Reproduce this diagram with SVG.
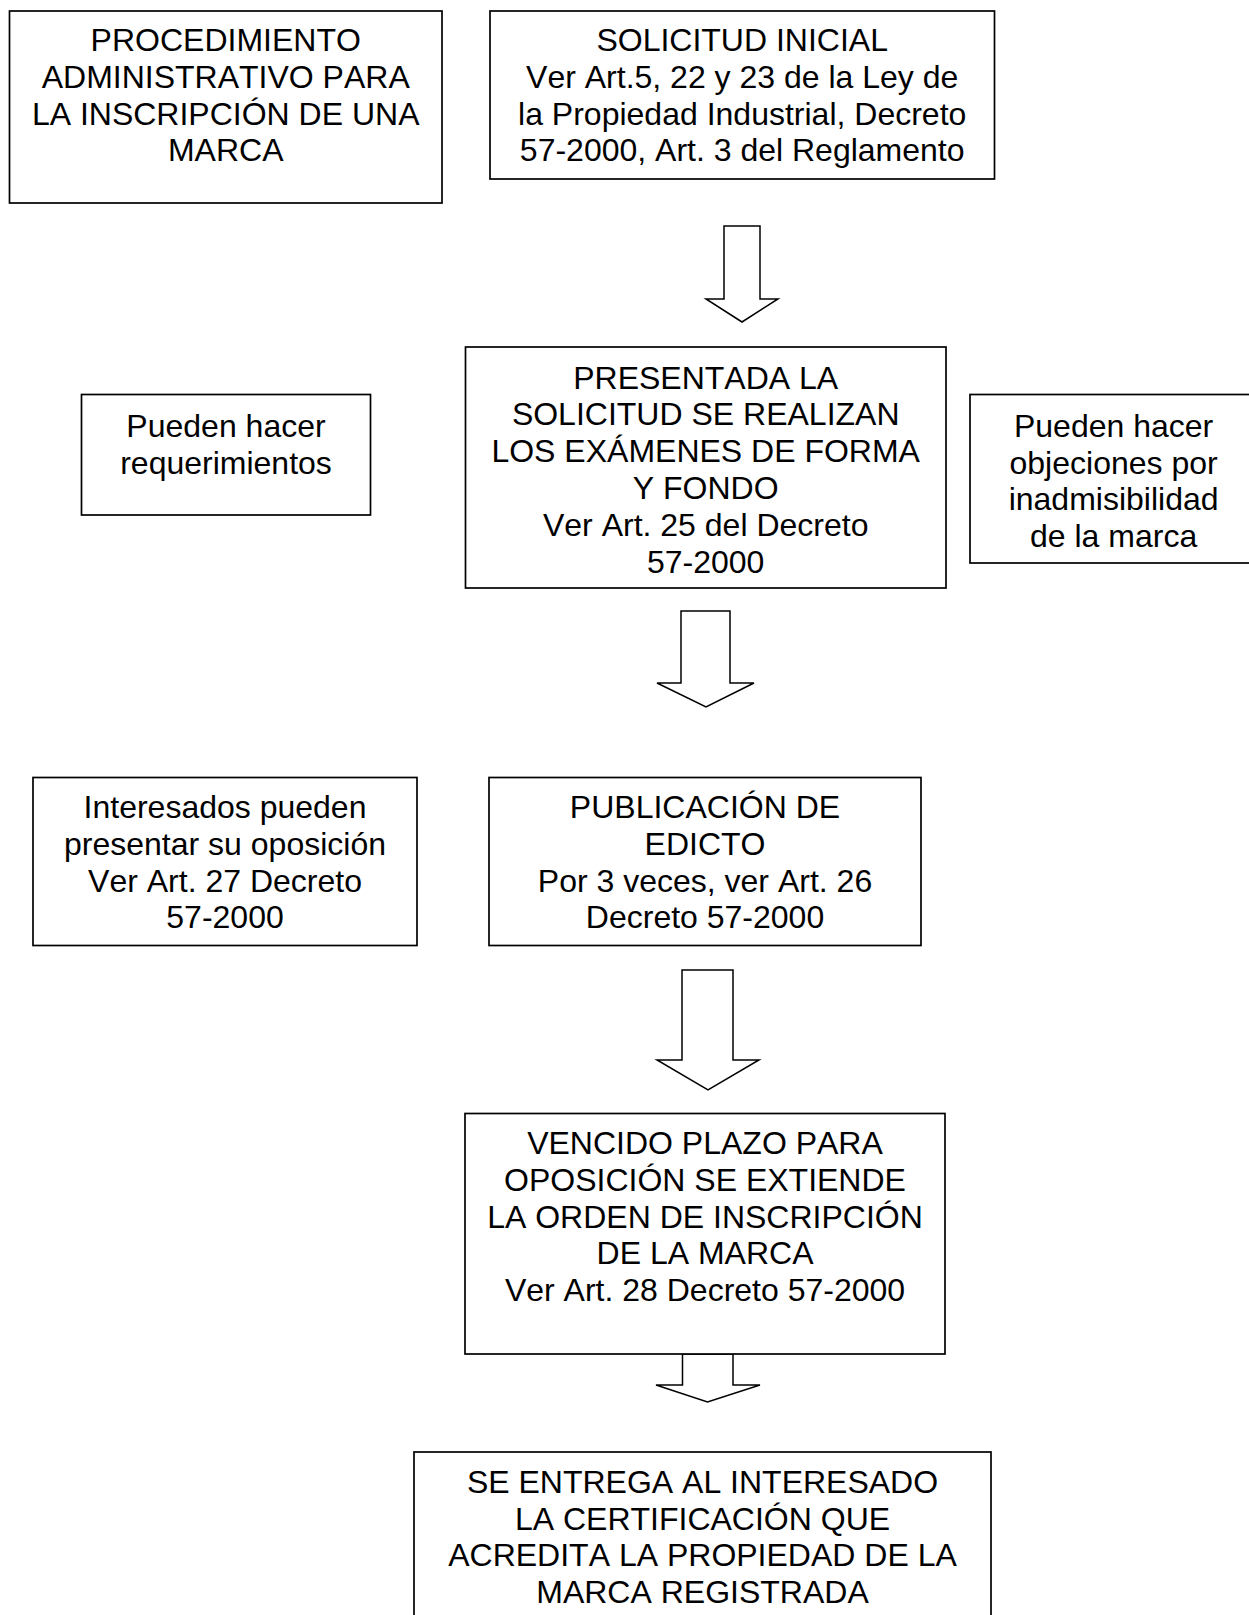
<svg xmlns="http://www.w3.org/2000/svg" width="1249" height="1615" viewBox="0 0 1249 1615">
<style>
.box{fill:#fff;stroke:#000;stroke-width:1.7}
.arr{fill:#fff;stroke:#000;stroke-width:1.5;stroke-linejoin:miter}
text{font-family:"Liberation Sans",Arial,sans-serif;font-size:32px;fill:#000;text-anchor:middle;font-kerning:none}
</style>
<rect width="1249" height="1615" fill="#fff"/>
<g id="connectors">
<polygon class="arr" points="724,226 760,226 760,299 778,299 742,322 706,299 724,299"/>
<polygon class="arr" points="681,611 730,611 730,683 754,683 706,707 657,683 681,683"/>
<polygon class="arr" points="682,970 733,970 733,1060 759,1060 708,1090 657,1060 682,1060"/>
<polygon class="arr" points="682.5,1354 733,1354 733,1385 760,1385 707.5,1402 656,1385 682.5,1385"/>
</g>
<g id="n-titulo">
<rect class="box" x="9.5" y="11" width="432.5" height="192"/>
<text x="225.7" y="51">PROCEDIMIENTO</text>
<text x="225.7" y="87.8">ADMINISTRATIVO PARA</text>
<text x="225.7" y="124.6">LA INSCRIPCIÓN DE UNA</text>
<text x="225.7" y="161.4">MARCA</text>
</g>
<g id="n-solicitud">
<rect class="box" x="490" y="11" width="504.5" height="168"/>
<text x="742.2" y="51">SOLICITUD INICIAL</text>
<text x="742.2" y="87.8">Ver Art.5, 22 y 23 de la Ley de</text>
<text x="742.2" y="124.6">la Propiedad Industrial, Decreto</text>
<text x="742.2" y="161.4">57-2000, Art. 3 del Reglamento</text>
</g>
<g id="n-requerimientos">
<rect class="box" x="81.5" y="394.5" width="289" height="120.5"/>
<text x="226" y="436.8">Pueden hacer</text>
<text x="226" y="473.6">requerimientos</text>
</g>
<g id="n-examenes">
<rect class="box" x="465.5" y="347" width="480.5" height="241"/>
<text x="705.7" y="388.5">PRESENTADA LA</text>
<text x="705.7" y="425.3">SOLICITUD SE REALIZAN</text>
<text x="705.7" y="462.1">LOS EXÁMENES DE FORMA</text>
<text x="705.7" y="498.9">Y FONDO</text>
<text x="705.7" y="535.7">Ver Art. 25 del Decreto</text>
<text x="705.7" y="572.5">57-2000</text>
</g>
<g id="n-objeciones">
<rect class="box" x="970" y="394.5" width="300" height="168.5"/>
<text x="1113.6" y="436.8">Pueden hacer</text>
<text x="1113.6" y="473.6">objeciones por</text>
<text x="1113.6" y="510.4">inadmisibilidad</text>
<text x="1113.6" y="547.2">de la marca</text>
</g>
<g id="n-oposicion">
<rect class="box" x="33" y="777.5" width="384" height="168"/>
<text x="225" y="818">Interesados pueden</text>
<text x="225" y="854.8">presentar su oposición</text>
<text x="225" y="891.6">Ver Art. 27 Decreto</text>
<text x="225" y="928.4">57-2000</text>
</g>
<g id="n-publicacion">
<rect class="box" x="489" y="777.5" width="432" height="168"/>
<text x="705" y="818">PUBLICACIÓN DE</text>
<text x="705" y="854.8">EDICTO</text>
<text x="705" y="891.6">Por 3 veces, ver Art. 26</text>
<text x="705" y="928.4">Decreto 57-2000</text>
</g>
<g id="n-orden">
<rect class="box" x="465" y="1113.5" width="480" height="240.5"/>
<text x="705" y="1154">VENCIDO PLAZO PARA</text>
<text x="705" y="1190.8">OPOSICIÓN SE EXTIENDE</text>
<text x="705" y="1227.6">LA ORDEN DE INSCRIPCIÓN</text>
<text x="705" y="1264.4">DE LA MARCA</text>
<text x="705" y="1301.2">Ver Art. 28 Decreto 57-2000</text>
</g>
<g id="n-certificacion">
<rect class="box" x="414" y="1452" width="577" height="190"/>
<text x="702.5" y="1492.7">SE ENTREGA AL INTERESADO</text>
<text x="702.5" y="1529.5">LA CERTIFICACIÓN QUE</text>
<text x="702.5" y="1566.3">ACREDITA LA PROPIEDAD DE LA</text>
<text x="702.5" y="1603.1">MARCA REGISTRADA</text>
</g>
</svg>
